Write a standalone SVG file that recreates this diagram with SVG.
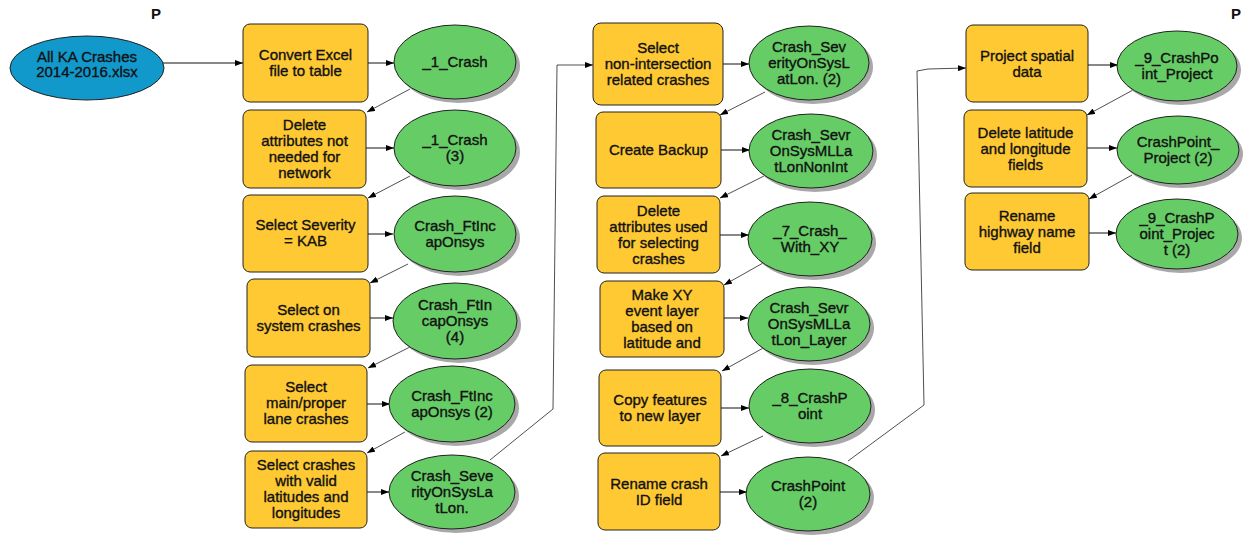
<svg xmlns="http://www.w3.org/2000/svg" width="1249" height="535" viewBox="0 0 1249 535">
<defs>
<marker id="ah" markerWidth="8" markerHeight="6" refX="8" refY="3" orient="auto" markerUnits="userSpaceOnUse"><path d="M0,0 L8,3 L0,6 z" fill="#000"/></marker>
<style>
.box{fill:#FFC933;stroke:#222;stroke-width:1}
.ell{fill:#66CC66;stroke:#222;stroke-width:1}
.blue{fill:#1199CC;stroke:#222;stroke-width:1}
.sh{fill:#A8A8A8}
text{font-family:"Liberation Sans",Arial,sans-serif;font-size:15px;fill:#111;stroke:#111;stroke-width:0.35;text-anchor:middle}
.p{font-weight:bold;stroke-width:0}
.c{fill:none;stroke:#111;stroke-width:1}
.d{fill:none;stroke:#222;stroke-width:0.8}
</style>
</defs>
<rect width="1249" height="535" fill="#fff"/>
<g id="connectors">
<line class="c" x1="163" y1="63" x2="243" y2="63" marker-end="url(#ah)"/>
<line class="c" x1="368" y1="63" x2="394" y2="63" marker-end="url(#ah)"/>
<line class="c" x1="366" y1="148" x2="394" y2="148" marker-end="url(#ah)"/>
<line class="c" x1="368" y1="234" x2="393" y2="234" marker-end="url(#ah)"/>
<line class="c" x1="370" y1="318" x2="393" y2="318" marker-end="url(#ah)"/>
<line class="c" x1="367" y1="404" x2="390" y2="404" marker-end="url(#ah)"/>
<line class="c" x1="367" y1="492" x2="389" y2="492" marker-end="url(#ah)"/>
<line class="d" x1="410" y1="89" x2="367" y2="112" marker-end="url(#ah)"/>
<line class="d" x1="410" y1="176" x2="368" y2="198" marker-end="url(#ah)"/>
<line class="d" x1="408" y1="264" x2="370" y2="283" marker-end="url(#ah)"/>
<line class="d" x1="410" y1="347" x2="368" y2="368" marker-end="url(#ah)"/>
<line class="d" x1="405" y1="432" x2="367" y2="453" marker-end="url(#ah)"/>
<polyline class="d" points="490,460 553,409 557,65 593,65" marker-end="url(#ah)"/>
<line class="c" x1="723" y1="64" x2="749" y2="64" marker-end="url(#ah)"/>
<line class="c" x1="721" y1="150" x2="750" y2="150" marker-end="url(#ah)"/>
<line class="c" x1="720" y1="235" x2="749" y2="235" marker-end="url(#ah)"/>
<line class="c" x1="724" y1="318" x2="748" y2="318" marker-end="url(#ah)"/>
<line class="c" x1="721" y1="408" x2="749" y2="408" marker-end="url(#ah)"/>
<line class="c" x1="720" y1="492" x2="747" y2="492" marker-end="url(#ah)"/>
<line class="d" x1="765" y1="92" x2="720" y2="115" marker-end="url(#ah)"/>
<line class="d" x1="764" y1="176" x2="720" y2="198" marker-end="url(#ah)"/>
<line class="d" x1="763" y1="263" x2="724" y2="285" marker-end="url(#ah)"/>
<line class="d" x1="765" y1="347" x2="722" y2="371" marker-end="url(#ah)"/>
<line class="d" x1="763" y1="436" x2="721" y2="456" marker-end="url(#ah)"/>
<polyline class="d" points="848,461 924,405 917,71 928,69 966,68" marker-end="url(#ah)"/>
<line class="c" x1="1088" y1="65" x2="1118" y2="65" marker-end="url(#ah)"/>
<line class="c" x1="1087" y1="148" x2="1117" y2="148" marker-end="url(#ah)"/>
<line class="c" x1="1089" y1="233" x2="1116" y2="233" marker-end="url(#ah)"/>
<line class="d" x1="1133" y1="90" x2="1087" y2="115" marker-end="url(#ah)"/>
<line class="d" x1="1132" y1="175" x2="1089" y2="199" marker-end="url(#ah)"/>
</g>
<g id="input"><ellipse class="blue" cx="87" cy="68" rx="77" ry="32"/><text x="87" y="62">All KA Crashes</text><text x="87" y="77">2014-2016.xlsx</text></g>
<text class="p" x="156" y="19">P</text>
<text class="p" x="1236" y="19">P</text>

<g id="b1"><rect class="box" x="243" y="24" width="125" height="78" rx="7"/><text x="305.5" y="60">Convert Excel</text><text x="305.5" y="76">file to table</text></g>
<g id="b2"><rect class="box" x="243" y="110" width="123" height="78" rx="7"/><text x="304.5" y="130">Delete</text><text x="304.5" y="146">attributes not</text><text x="304.5" y="162">needed for</text><text x="304.5" y="178">network</text></g>
<g id="b3"><rect class="box" x="243" y="195" width="125" height="77" rx="7"/><text x="305.5" y="230">Select Severity</text><text x="305.5" y="246">= KAB</text></g>
<g id="b4"><rect class="box" x="247" y="279" width="123" height="78" rx="7"/><text x="308.5" y="315">Select on</text><text x="308.5" y="331">system crashes</text></g>
<g id="b5"><rect class="box" x="245" y="365" width="122" height="77" rx="7"/><text x="306" y="392">Select</text><text x="306" y="408">main/proper</text><text x="306" y="424">lane crashes</text></g>
<g id="b6"><rect class="box" x="245" y="451" width="122" height="77" rx="7"/><text x="306" y="470">Select crashes</text><text x="306" y="486">with valid</text><text x="306" y="502">latitudes and</text><text x="306" y="518">longitudes</text></g>

<g id="e1"><ellipse class="sh" cx="459" cy="66" rx="61" ry="37"/><ellipse class="ell" cx="455" cy="62" rx="61" ry="37"/><text x="455" y="67">_1_Crash</text></g>
<g id="e2"><ellipse class="sh" cx="459" cy="152" rx="61" ry="38"/><ellipse class="ell" cx="455" cy="148" rx="61" ry="38"/><text x="455" y="145">_1_Crash</text><text x="455" y="161">(3)</text></g>
<g id="e3"><ellipse class="sh" cx="459" cy="238" rx="61" ry="38"/><ellipse class="ell" cx="455" cy="234" rx="61" ry="38"/><text x="455" y="231">Crash_FtInc</text><text x="455" y="247">apOnsys</text></g>
<g id="e4"><ellipse class="sh" cx="459" cy="325" rx="62" ry="38"/><ellipse class="ell" cx="455" cy="321" rx="62" ry="38"/><text x="455" y="310">Crash_FtIn</text><text x="455" y="326">capOnsys</text><text x="455" y="342">(4)</text></g>
<g id="e5"><ellipse class="sh" cx="456" cy="408" rx="63" ry="38"/><ellipse class="ell" cx="452" cy="404" rx="63" ry="38"/><text x="452" y="401">Crash_FtInc</text><text x="452" y="417">apOnsys (2)</text></g>
<g id="e6"><ellipse class="sh" cx="456" cy="496" rx="63" ry="37"/><ellipse class="ell" cx="452" cy="492" rx="63" ry="37"/><text x="452" y="481">Crash_Seve</text><text x="452" y="497">rityOnSysLa</text><text x="452" y="513">tLon.</text></g>

<g id="b7"><rect class="box" x="593" y="23" width="130" height="82" rx="8"/><text x="658" y="53">Select</text><text x="658" y="69">non-intersection</text><text x="658" y="85">related crashes</text></g>
<g id="b8"><rect class="box" x="596" y="112" width="125" height="76" rx="7"/><text x="658.5" y="155">Create Backup</text></g>
<g id="b9"><rect class="box" x="597" y="196" width="123" height="77" rx="7"/><text x="658.5" y="215.5">Delete</text><text x="658.5" y="231.5">attributes used</text><text x="658.5" y="247.5">for selecting</text><text x="658.5" y="263.5">crashes</text></g>
<g id="b10"><rect class="box" x="600" y="281" width="124" height="76" rx="7"/><text x="662" y="300">Make XY</text><text x="662" y="316">event layer</text><text x="662" y="332">based on</text><text x="662" y="348">latitude and</text></g>
<g id="b11"><rect class="box" x="599" y="370" width="122" height="76" rx="7"/><text x="660" y="405">Copy features</text><text x="660" y="421">to new layer</text></g>
<g id="b12"><rect class="box" x="598" y="453" width="122" height="77" rx="7"/><text x="659" y="488.5">Rename crash</text><text x="659" y="504.5">ID field</text></g>

<g id="e7"><ellipse class="sh" cx="813" cy="67" rx="60" ry="37"/><ellipse class="ell" cx="809" cy="63" rx="60" ry="37"/><text x="809" y="52">Crash_Sev</text><text x="809" y="68">erityOnSysL</text><text x="809" y="84">atLon. (2)</text></g>
<g id="e8"><ellipse class="sh" cx="815" cy="155" rx="62" ry="37"/><ellipse class="ell" cx="811" cy="151" rx="62" ry="37"/><text x="811" y="140">Crash_Sevr</text><text x="811" y="156">OnSysMLLa</text><text x="811" y="172">tLonNonInt</text></g>
<g id="e9"><ellipse class="sh" cx="814" cy="243" rx="62" ry="37"/><ellipse class="ell" cx="810" cy="239" rx="62" ry="37"/><text x="810" y="236">_7_Crash_</text><text x="810" y="252">With_XY</text></g>
<g id="e10"><ellipse class="sh" cx="813" cy="328" rx="61" ry="37"/><ellipse class="ell" cx="809" cy="324" rx="61" ry="37"/><text x="809" y="313">Crash_Sevr</text><text x="809" y="329">OnSysMLLa</text><text x="809" y="345">tLon_Layer</text></g>
<g id="e11"><ellipse class="sh" cx="814" cy="410" rx="61" ry="37"/><ellipse class="ell" cx="810" cy="406" rx="61" ry="37"/><text x="810" y="403">_8_CrashP</text><text x="810" y="419">oint</text></g>
<g id="e12"><ellipse class="sh" cx="812" cy="498" rx="62" ry="37"/><ellipse class="ell" cx="808" cy="494" rx="62" ry="37"/><text x="808" y="491">CrashPoint</text><text x="808" y="507">(2)</text></g>

<g id="b13"><rect class="box" x="966" y="25" width="122" height="77" rx="7"/><text x="1027" y="60.5">Project spatial</text><text x="1027" y="76.5">data</text></g>
<g id="b14"><rect class="box" x="964" y="110" width="123" height="77" rx="7"/><text x="1025.5" y="137.5">Delete latitude</text><text x="1025.5" y="153.5">and longitude</text><text x="1025.5" y="169.5">fields</text></g>
<g id="b15"><rect class="box" x="965" y="193" width="124" height="77" rx="7"/><text x="1027" y="220.5">Rename</text><text x="1027" y="236.5">highway name</text><text x="1027" y="252.5">field</text></g>

<g id="e13"><ellipse class="sh" cx="1181" cy="70" rx="60" ry="35"/><ellipse class="ell" cx="1177" cy="66" rx="60" ry="35"/><text x="1177" y="63">_9_CrashPo</text><text x="1177" y="79">int_Project</text></g>
<g id="e14"><ellipse class="sh" cx="1182" cy="154" rx="61" ry="34"/><ellipse class="ell" cx="1178" cy="150" rx="61" ry="34"/><text x="1178" y="147">CrashPoint_</text><text x="1178" y="163">Project (2)</text></g>
<g id="e15"><ellipse class="sh" cx="1181" cy="238" rx="61" ry="35"/><ellipse class="ell" cx="1177" cy="234" rx="61" ry="35"/><text x="1177" y="223">_9_CrashP</text><text x="1177" y="239">oint_Projec</text><text x="1177" y="255">t (2)</text></g>
</svg>
